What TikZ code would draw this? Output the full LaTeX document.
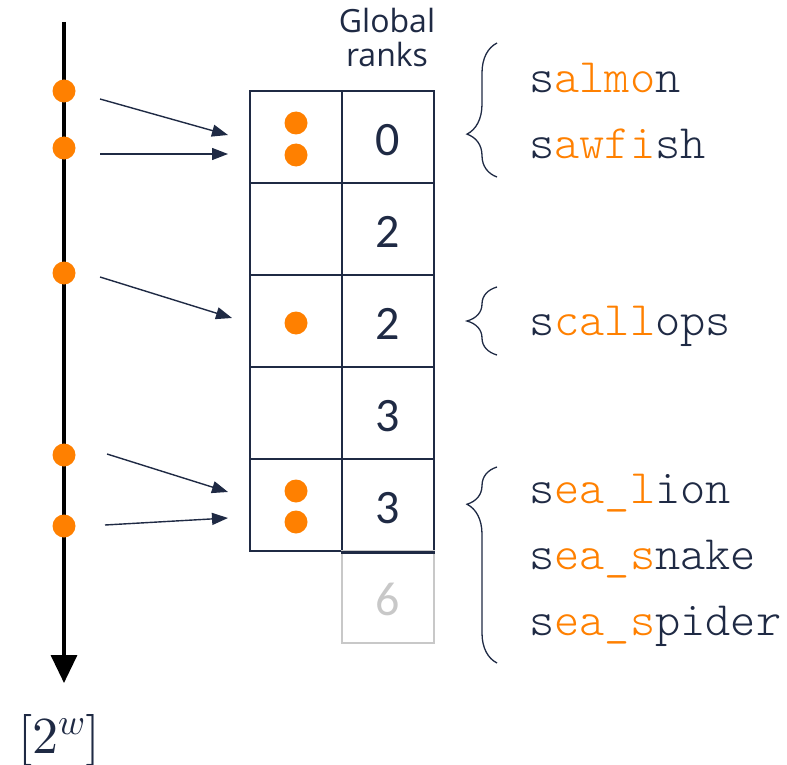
\documentclass[tikz,border=0pt]{standalone}
\usepackage{fontspec}
\usepackage{unicode-math}
\setmathfont{Latin Modern Math}
\setmainfont{Carlito}
\newfontfamily\labfont{Open Sans}
\newfontfamily\wordfont{Latin Modern Mono Light}
\usetikzlibrary{arrows.meta,decorations.pathreplacing}
\definecolor{navy}{HTML}{1F2A44}
\definecolor{orng}{HTML}{FF8000}
\definecolor{lgray}{HTML}{C8C8C8}
\newcommand{\og}[1]{\textcolor{orng}{#1}}
\begin{document}
\begin{tikzpicture}[x=1pt,y=-1pt,
  dot/.style={circle,fill=orng,minimum size=23pt,inner sep=0pt},
  cell/.style={draw=navy,line width=2.5pt,minimum width=92pt,minimum height=92pt,inner sep=0pt},
  gcell/.style={draw=lgray,line width=2.5pt,minimum width=92pt,minimum height=92pt,inner sep=0pt},
  num/.style={font=\fontsize{48}{48}\selectfont,text=navy,anchor=base,inner sep=0pt},
  word/.style={font=\wordfont\fontsize{48}{48}\selectfont,text=navy,anchor=base west,inner sep=0pt},
  ptr/.style={navy,line width=1.4pt,-{Triangle[length=16pt,width=12pt]}},
  brc/.style={navy,line width=1.3pt,decorate,decoration={brace,amplitude=30pt,raise=0pt}}
]
\useasboundingbox (0,0) rectangle (787,765);
% axis
\coordinate (atop) at (64,22);
\coordinate (abot) at (64,683);
\draw[black,line width=3.5pt,-{Triangle[length=28pt,width=26pt]}] (atop) -- (abot);
\node[dot] (d1) at (64,91) {};
\node[dot] (d2) at (64,148) {};
\node[dot] (d3) at (64,273) {};
\node[dot] (d4) at (64,455) {};
\node[dot] (d5) at (64,526) {};
% table
\foreach \r/\y in {0/137,1/229,2/321,3/413,4/505}{
  \node[cell] (L\r) at (296,\y) {};
  \node[cell] (R\r) at (388,\y) {};
}
\node[gcell] (R5) at (388,597) {};
\draw[navy,line width=2.5pt] (R4.south west) -- (R4.south east);
\node[num] (n0) at (388,155) {0};
\node[num] (n1) at (388,247) {2};
\node[num] (n2) at (388,339) {2};
\node[num] (n3) at (388,431) {3};
\node[num] (n4) at (388,523) {3};
\node[num,text=lgray] (n5) at (388,615) {6};
% dots in table
\node[dot] (t1) at (296,123) {};
\node[dot] (t2) at (296,155) {};
\node[dot] (t3) at (296,323) {};
\node[dot] (t4) at (296,491) {};
\node[dot] (t5) at (296,522) {};
% header
\node[font=\labfont\fontsize{32}{32}\selectfont,text=navy,anchor=base,inner sep=0pt] (h1) at (387,33) {Global};
\node[font=\labfont\fontsize{32}{32}\selectfont,text=navy,anchor=base,inner sep=0pt] (h2) at (387,67) {ranks};
% pointers
\coordinate (s1) at (100,99);  \coordinate (e1) at (228,135);
\coordinate (s2) at (100,154); \coordinate (e2) at (228,154);
\coordinate (s3) at (100,277); \coordinate (e3) at (232,318);
\coordinate (s4) at (107,454); \coordinate (e4) at (228,492);
\coordinate (s5) at (105,525); \coordinate (e5) at (228,518);
\foreach \i in {1,...,5}{\draw[ptr] (s\i) -- (e\i);}
% braces
\coordinate (b1a) at (497,177); \coordinate (b1b) at (497,43);
\coordinate (b2a) at (497,355); \coordinate (b2b) at (497,287);
\coordinate (b3a) at (497,663); \coordinate (b3b) at (497,467);
\draw[brc,decoration={aspect=0.32}] (b1a) -- (b1b);
\draw[brc,decoration={aspect=0.5}] (b2a) -- (b2b);
\draw[brc,decoration={aspect=0.81}] (b3a) -- (b3b);
% words
\node[word] (w1) at (529,93) {s\og{almo}n};
\node[word] (w2) at (529,159) {s\og{awfi}sh};
\node[word] (w3) at (529,335) {s\og{call}ops};
\node[word] (w4) at (529,503) {s\og{ea\_l}ion};
\node[word] (w5) at (529,569) {s\og{ea\_s}nake};
\node[word] (w6) at (529,635) {s\og{ea\_s}pider};
% bottom label
\node[anchor=base,inner sep=0pt,text=navy,font=\fontsize{52}{52}\selectfont] (lab) at (59,753) {$[2^{w}]$};
\end{tikzpicture}
\end{document}
